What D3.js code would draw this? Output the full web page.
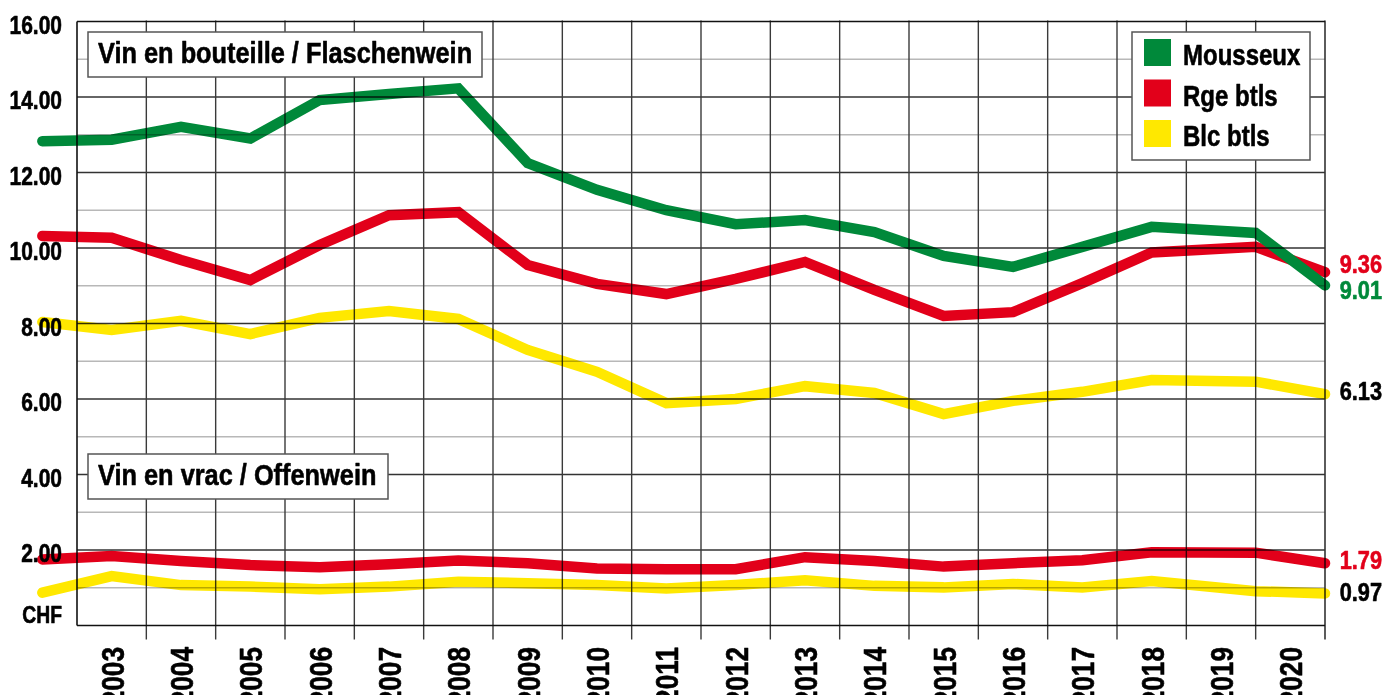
<!DOCTYPE html>
<html><head><meta charset="utf-8">
<script src="https://cdn.jsdelivr.net/npm/d3@7"></script>
<style>html,body{margin:0;padding:0;background:#fff;overflow:hidden}</style>
</head><body>
<svg id="chart" width="1397" height="695"></svg>
<script>
// ---- data ----
const periods = [2002,2003,2004,2005,2006,2007,2008,2009,2010,2011,2012,2013,2014,2015,2016,2017,2018,2019.5,2020.5];
const yearLabels = ["2003","2004","2005","2006","2007","2008","2009","2010","2011","2012","2013","2014","2015","2016","2017","2018","2019","2020"];
const yearTickValues = [2003,2004,2005,2006,2007,2008,2009,2010,2011,2012,2013,2014,2015,2016,2017,2018,2019,2020];
const mousseux = [12.83,12.87,13.21,12.90,13.92,14.08,14.23,12.25,11.54,11.00,10.63,10.74,10.42,9.79,9.50,10.03,10.56,10.40,9.01];
const rgeBtls  = [10.32,10.27,9.68,9.15,10.08,10.87,10.95,9.55,9.05,8.78,9.18,9.63,8.89,8.20,8.30,9.07,9.88,10.03,9.36];
const blcBtls  = [8.04,7.83,8.07,7.72,8.15,8.33,8.12,7.30,6.72,5.89,6.00,6.34,6.16,5.60,5.95,6.19,6.50,6.46,6.13];
const rgeVrac  = [1.75,1.84,1.71,1.60,1.54,1.62,1.72,1.65,1.51,1.49,1.49,1.81,1.71,1.56,1.65,1.73,1.94,1.93,1.65];
const blcVrac  = [0.87,1.31,1.07,1.03,0.96,1.03,1.16,1.12,1.07,0.98,1.07,1.20,1.05,1.01,1.10,1.01,1.18,0.91,0.85];
const yTicks = [2,4,6,8,10,12,14,16];
const yTickLabels = ["2.00","4.00","6.00","8.00","10.00","12.00","14.00","16.00"];
const legendNames = ["Mousseux","Rge btls","Blc btls"];
const endLabels = ["9.36","9.01","6.13","1.79","0.97"];
const titles = ["Vin en bouteille / Flaschenwein","Vin en vrac / Offenwein"];
const unitLabel = "CHF";

// ---- styles ----
const GREEN="#00893a", RED="#e2001a", YELLOW="#ffe800";
const FONT="'Liberation Sans', Arial, sans-serif";
const SX=0.84;

const svg=d3.select("#chart");
const L=77,R=1325,T=21.5,B=625.5;
const x=d3.scaleLinear().domain([2002.5,2020.5]).range([L,R]);
const y=d3.scaleLinear().domain([0,16]).range([B,T]);

function txt(g,px,py,s,o){
  o=o||{};
  const c=o.fill||"#000";
  const gg=g.append("g").attr("transform",`translate(${px},${py}) rotate(${o.rot||0}) scale(${o.sx||SX},1)`);
  gg.append("text").attr("x",0).attr("y",0)
    .attr("text-anchor",o.anchor||"start")
    .attr("font-family",FONT).attr("font-weight","bold")
    .attr("font-size",o.size||25).attr("fill",c)
    .attr("stroke",c).attr("stroke-width",0.6).attr("stroke-linejoin","round")
    .text(s);
  return gg;
}

// data lines
const line=d3.line().x((d,i)=>x(periods[i])).y(d=>y(d));
const gl=svg.append("g");
const series=[[blcVrac,YELLOW],[rgeVrac,RED],[blcBtls,YELLOW],[rgeBtls,RED],[mousseux,GREEN]];
series.forEach(([vals,c])=>{
  gl.append("path").datum(vals).attr("d",line).attr("fill","none")
    .attr("stroke",c).attr("stroke-width",10.5)
    .attr("stroke-linecap","round").attr("stroke-linejoin","miter");
});

// grid
const gg=svg.append("g").style("mix-blend-mode","multiply");
d3.range(1,16).forEach(v=>{
  gg.append("line").attr("x1",L).attr("x2",R).attr("y1",y(v)).attr("y2",y(v))
    .attr("stroke",v%2===0?"#333":"#b8b8b8").attr("stroke-width",v%2===0?1.3:1.6);
});
d3.range(2003.5,2020.5,1).forEach(v=>{
  gg.append("line").attr("x1",x(v)).attr("x2",x(v)).attr("y1",T-1).attr("y2",B+14)
    .attr("stroke","#3a3a3a").attr("stroke-width",1.4);
});
// frame
gg.append("line").attr("x1",L).attr("x2",L).attr("y1",T).attr("y2",B).attr("stroke","#111").attr("stroke-width",1.6);
gg.append("line").attr("x1",R).attr("x2",R).attr("y1",T-1).attr("y2",B+14).attr("stroke","#333").attr("stroke-width",1.6);
gg.append("line").attr("x1",L).attr("x2",R).attr("y1",T).attr("y2",T).attr("stroke","#111").attr("stroke-width",1.5);
gg.append("line").attr("x1",L).attr("x2",R).attr("y1",B).attr("y2",B).attr("stroke","#111").attr("stroke-width",1.5);

// y labels
const gt=svg.append("g");
yTicks.forEach((v,i)=>txt(gt,62,y(v)+12,yTickLabels[i],{anchor:"end",size:25}));
txt(gt,62,623,unitLabel,{anchor:"end",size:23});

// year labels
yearTickValues.forEach((v,i)=>txt(gt,x(v)+12,647,yearLabels[i],{anchor:"end",size:32,rot:-90,sx:0.82}));

// title boxes
const tb=[[88,32,394,45,63],[88,454,300,45,485]];
titles.forEach((t,i)=>{
  const [bx,by,bw,bh,base]=tb[i];
  svg.append("rect").attr("x",bx).attr("y",by).attr("width",bw).attr("height",bh)
    .attr("fill","#fff").attr("stroke","#555").attr("stroke-width",1.5);
  txt(svg,98,base,t,{size:30,sx:0.845});
});

// legend
svg.append("rect").attr("x",1132).attr("y",32).attr("width",178).attr("height",128)
  .attr("fill","#fff").attr("stroke","#555").attr("stroke-width",1.5);
[GREEN,RED,YELLOW].forEach((c,i)=>{
  const sy=39+i*40.5;
  svg.append("rect").attr("x",1144).attr("y",sy).attr("width",27).attr("height",27).attr("fill",c);
  txt(svg,1183,sy+26,legendNames[i],{size:30,sx:0.8});
});

// end labels
const ends=[[rgeBtls,RED,1],[mousseux,GREEN,14],[blcBtls,"#000",6],[rgeVrac,RED,6],[blcVrac,"#000",8]];
ends.forEach(([vals,c,dy],i)=>{
  txt(svg,1382,y(vals[vals.length-1])+dy,endLabels[i],{anchor:"end",size:25,fill:c,sx:0.87});
});
</script>
</body></html>
